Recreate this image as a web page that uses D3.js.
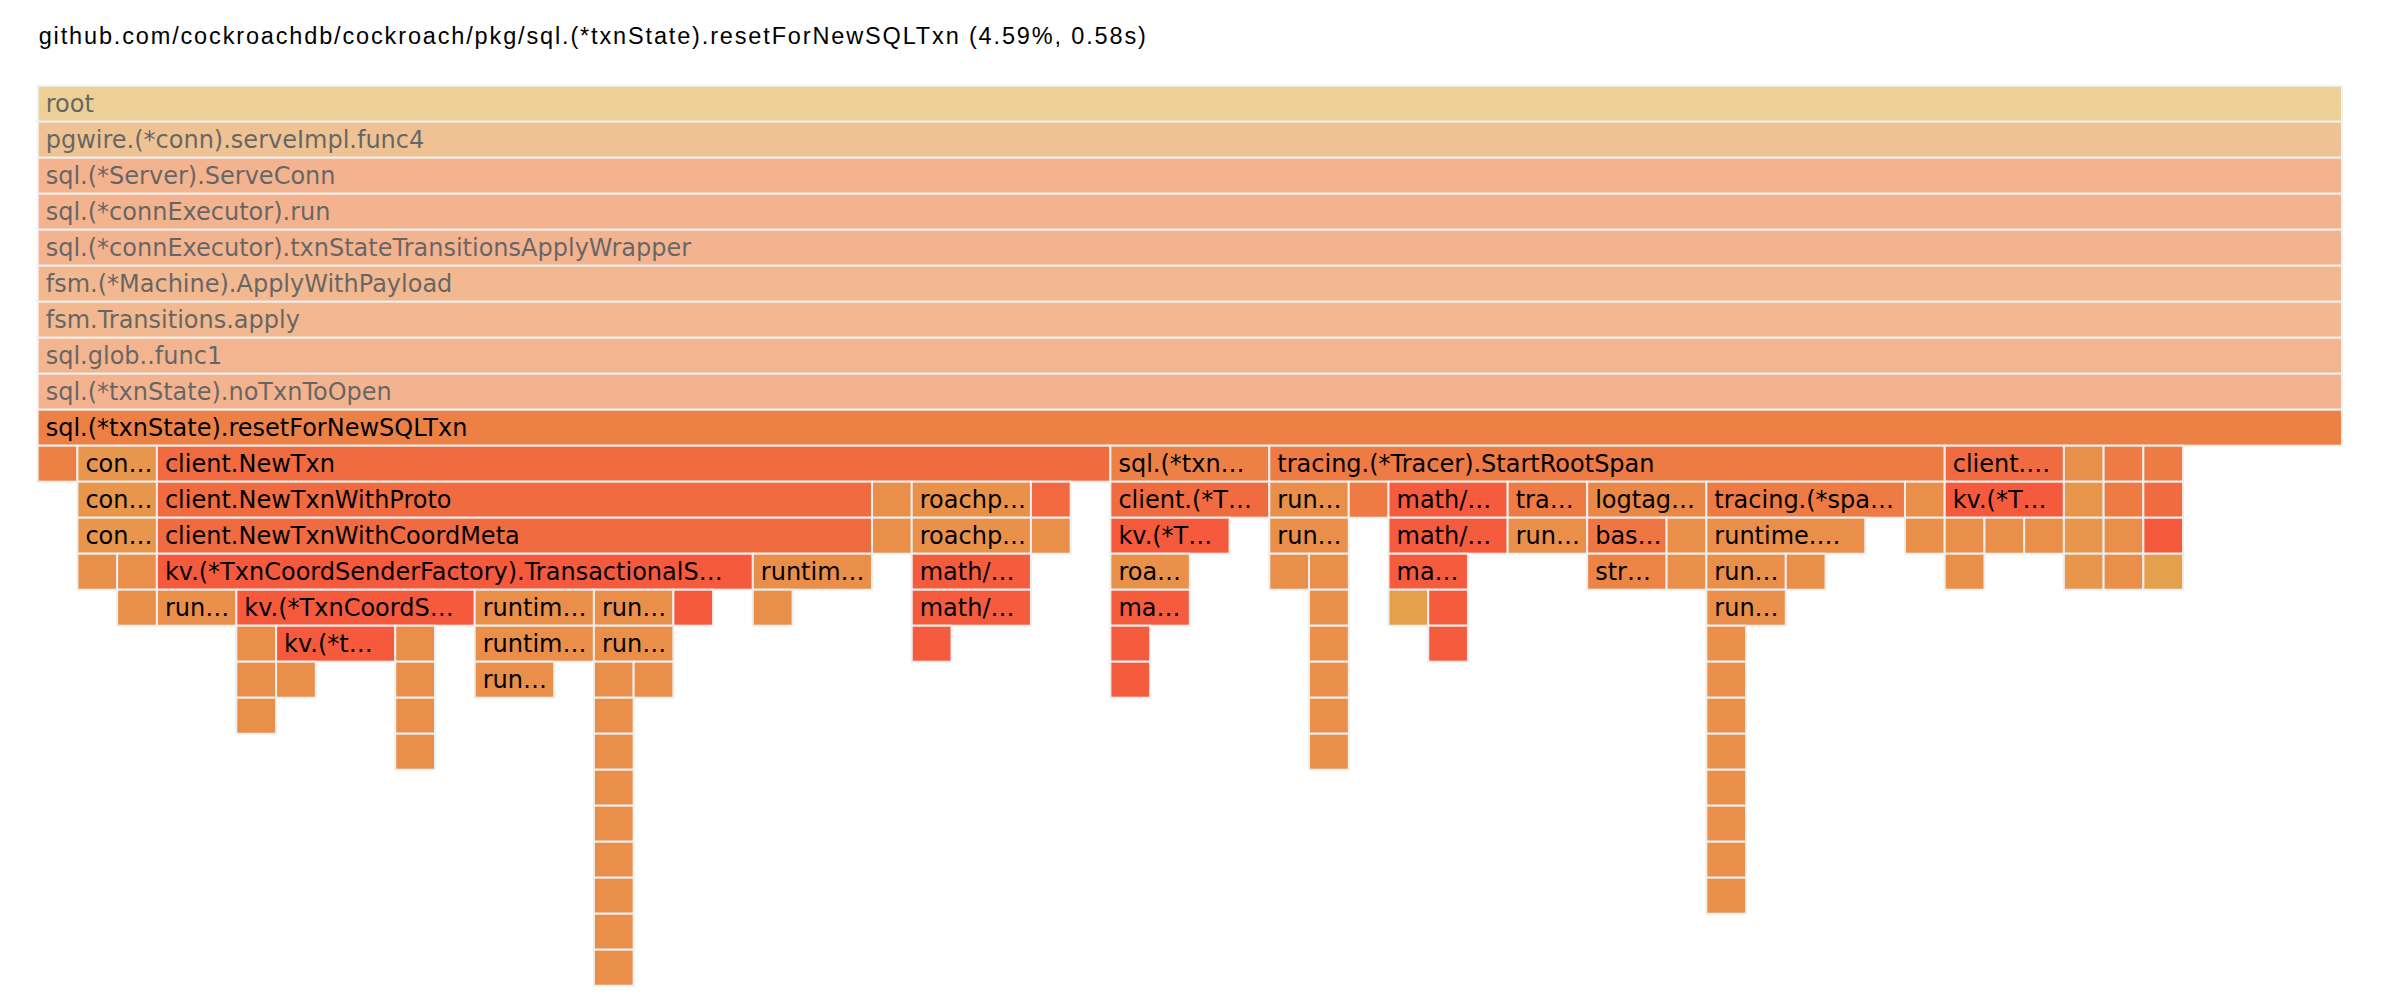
<!DOCTYPE html>
<html>
<head>
<meta charset="utf-8">
<script src="https://cdn.jsdelivr.net/npm/d3@7"></script>
<style>
  html, body { margin: 0; padding: 0; background: #fff; }
  svg { display: block; }
</style>
</head>
<body>
<div id="chart"></div>
<script>
// profile header
const focusPackage = "github.com/cockroachdb/cockroach/pkg/";
const focusPercent = 4.59;
const sampleSeconds = 0.01;

// frames above the focused function (root first), shown faded
const ancestorFrames = [
  "root",
  "pgwire.(*conn).serveImpl.func4",
  "sql.(*Server).ServeConn",
  "sql.(*connExecutor).run",
  "sql.(*connExecutor).txnStateTransitionsApplyWrapper",
  "fsm.(*Machine).ApplyWithPayload",
  "fsm.Transitions.apply",
  "sql.glob..func1",
  "sql.(*txnState).noTxnToOpen"
];
const focusFrame = "sql.(*txnState).resetForNewSQLTxn";
const focusSelf = 4;

// callees: [id, parent id, function, self samples]
const topCallees = [
  ["a", "F", "sql.(*txnState).setReadOnlyMode", 1],
  ["b", "F", "contextutil.WithCancel", 0],
  ["c", "F", "client.NewTxn", 1],
  ["d", "F", "sql.(*txnState).setPriority", 0],
  ["e", "F", "tracing.(*Tracer).StartRootSpan", 0],
  ["f", "F", "client.(*Txn).SetDebugName", 0],
  ["g", "F", "runtime.deferreturn", 0],
  ["h", "F", "tracing.ContextWithSpan", 0],
  ["i", "F", "tracing.(*span).SetTag", 0]
];

const contextFrames = [
  ["b1", "b", "context.WithCancel", 0],
  ["b2", "b1", "context.propagateCancel", 0],
  ["b3", "b2", "runtime.newobject", 1],
  ["b4", "b2", "runtime.makechan", 0],
  ["b5", "b4", "runtime.mallocgc", 1]
];

const newTxnFrames = [
  ["c1", "c", "client.NewTxnWithProto", 0],
  ["c11", "c1", "client.NewTxnWithCoordMeta", 0],
  ["c111", "c11", "kv.(*TxnCoordSenderFactory).TransactionalSender", 1],
  ["k1", "c111", "runtime.newobject", 2],
  ["k2", "c111", "kv.(*TxnCoordSender).initCommonInterceptors", 1],
  ["k21", "k2", "runtime.newobject", 0],
  ["k211", "k21", "runtime.mallocgc", 0],
  ["k2111", "k211", "runtime.nextFreeFast", 1],
  ["k22", "k2", "kv.(*txnHeartbeater).init", 2],
  ["k221", "k22", "runtime.newobject", 1],
  ["k23", "k2", "runtime.makemap_small", 0],
  ["k231", "k23", "runtime.newobject", 0],
  ["k232", "k231", "runtime.mallocgc", 0],
  ["k233", "k232", "runtime.heapBitsSetType", 1],
  ["k3", "c111", "runtime.makeslice", 0],
  ["k31", "k3", "runtime.mallocgc", 1],
  ["k311", "k31", "runtime.(*mcache).nextFree", 2],
  ["k4", "c111", "runtime.newobject", 0],
  ["k41", "k4", "runtime.mallocgc", 0],
  ["k411", "k41", "runtime.(*mcache).nextFree", 0],
  ["k412", "k411", "runtime.(*mcache).refill", 0],
  ["k413", "k412", "runtime.(*mcentral).cacheSpan", 0],
  ["k414", "k413", "runtime.(*mcentral).grow", 0],
  ["k415", "k414", "runtime.(*mheap).alloc", 0],
  ["k416", "k415", "runtime.systemstack", 0],
  ["k417", "k416", "runtime.(*mheap).alloc.func1", 0],
  ["k418", "k417", "runtime.(*mheap).alloc_m", 0],
  ["k419", "k418", "runtime.(*mheap).allocSpanLocked", 1],
  ["k42", "k41", "runtime.memclrNoHeapPointers", 1],
  ["k5", "c111", "kv.(*TxnCoordSender).updateStateLocked", 1],
  ["c112", "c11", "runtime.newobject", 2],
  ["c1121", "c112", "runtime.mallocgc", 1],
  ["c2", "c", "runtime.newobject", 0],
  ["c21", "c2", "runtime.mallocgc", 1],
  ["c3", "c", "roachpb.MakeTransaction", 0],
  ["c31", "c3", "roachpb.MakePriority", 0],
  ["c311", "c31", "math/rand.Int31n", 0],
  ["c3111", "c311", "math/rand.(*Rand).Int31n", 2],
  ["c31111", "c3111", "math/rand.(*Rand).Int31", 1],
  ["c4", "c", "hlc.(*Clock).Now", 0],
  ["c41", "c4", "runtime.walltime", 1]
];

const priorityFrames = [
  ["d1", "d", "client.(*Txn).SetUserPriority", 1],
  ["d11", "d1", "kv.(*TxnCoordSender).SetUserPriority", 1],
  ["d111", "d11", "roachpb.MakePriority", 0],
  ["d1111", "d111", "math/rand.ExpFloat64", 1],
  ["d11111", "d1111", "math/rand.(*Rand).ExpFloat64", 0],
  ["d111111", "d11111", "math/rand.(*Rand).Uint32", 1]
];

const spanFrames = [
  ["e1", "e", "runtime.newobject", 0],
  ["e11", "e1", "runtime.mallocgc", 0],
  ["e111", "e11", "runtime.nextFreeFast", 1],
  ["e112", "e11", "runtime.(*mcache).nextFree", 0],
  ["e1121", "e112", "runtime.(*mcache).refill", 0],
  ["e1122", "e1121", "runtime.(*mcentral).cacheSpan", 0],
  ["e1123", "e1122", "runtime.(*mcentral).grow", 0],
  ["e1124", "e1123", "runtime.(*mheap).alloc", 0],
  ["e1125", "e1124", "runtime.systemstack", 1],
  ["e2", "e", "tracing.(*Tracer).getShadowTracer", 1],
  ["e3", "e", "math/rand.Int63", 0],
  ["e31", "e3", "math/rand.(*Rand).Int63", 1],
  ["e311", "e31", "math/rand.(*lockedSource).Int63", 0],
  ["e3111", "e311", "sync.(*Mutex).Lock", 1],
  ["e3112", "e311", "math/rand.(*rngSource).Int63", 0],
  ["e31121", "e3112", "math/rand.(*rngSource).Uint64", 1],
  ["e4", "e", "tracing.(*span).SetTags", 0],
  ["e41", "e4", "runtime.makemap", 2],
  ["e5", "e", "logtags.(*Buffer).Get", 0],
  ["e51", "e5", "base64.(*Encoding).EncodeToString", 0],
  ["e511", "e51", "strconv.appendQuotedWith", 2],
  ["e52", "e5", "runtime.convTstring", 0],
  ["e521", "e52", "runtime.mallocgc", 1],
  ["e6", "e", "tracing.(*span).SetBaggageItem", 1],
  ["e61", "e6", "runtime.mapassign_faststr", 1],
  ["e611", "e61", "runtime.hashGrow", 0],
  ["e6111", "e611", "runtime.makeBucketArray", 1],
  ["e61111", "e6111", "runtime.newarray", 0],
  ["e61112", "e61111", "runtime.mallocgc", 0],
  ["e61113", "e61112", "runtime.(*mcache).nextFree", 0],
  ["e61114", "e61113", "runtime.(*mcache).refill", 0],
  ["e61115", "e61114", "runtime.(*mcentral).cacheSpan", 0],
  ["e61116", "e61115", "runtime.(*mcentral).grow", 0],
  ["e61117", "e61116", "runtime.(*mheap).alloc", 0],
  ["e61118", "e61117", "runtime.systemstack", 1],
  ["e612", "e61", "runtime.memhash", 1],
  ["e7", "e", "runtime.convT2Estring", 0],
  ["e71", "e7", "runtime.mallocgc", 1]
];

const tailFrames = [
  ["f1", "f", "kv.(*TxnCoordSender).SetDebugName", 0],
  ["f11", "f1", "runtime.convTstring", 0],
  ["f111", "f11", "runtime.mallocgc", 1],
  ["f12", "f1", "runtime.lock", 1],
  ["f13", "f1", "runtime.unlock", 1],
  ["g1", "g", "contextutil.WithCancel.func1", 0],
  ["g2", "g1", "context.(*cancelCtx).cancel", 0],
  ["g3", "g2", "context.removeChild", 1],
  ["h1", "h", "tracing.(*span).Context", 0],
  ["h2", "h1", "runtime.convT2E", 0],
  ["h3", "h2", "runtime.mallocgc", 1],
  ["i1", "i", "client.(*Txn).ID", 0],
  ["i2", "i1", "kv.(*TxnCoordSender).TxnStatus", 0],
  ["i3", "i2", "sync.(*Mutex).Lock", 1]
];

// ---- layout ----
const pageWidth = 2386, pageHeight = 1006;
const margin = { top: 85.7, left: 37.7, right: 44 };
const cellHeight = 36;
const labelSize = 24;

// Verdana advance widths (per 1000 em), used for label truncation like the original page
const verdanaLower = [601,623,521,623,596,352,623,633,274,344,592,274,973,633,607,623,623,427,521,394,633,592,818,592,592,525];
const verdanaUpper = [684,686,698,771,632,575,775,751,421,455,693,557,843,748,787,603,787,695,684,616,732,684,989,685,615,685];
const verdanaPunct = { ".": 364, "(": 454, ")": 454, "*": 636, "/": 454, "_": 636, " ": 352 };
const ellipsisWidth = 818 * labelSize / 1000;

function charWidth(ch) {
  const c = ch.charCodeAt(0);
  if (c >= 97 && c <= 122) return verdanaLower[c - 97];
  if (c >= 65 && c <= 90) return verdanaUpper[c - 65];
  if (c >= 48 && c <= 57) return 636;
  return verdanaPunct[ch] || 600;
}
function textWidth(s) {
  let w = 0;
  for (const ch of s) w += charWidth(ch);
  return w * labelSize / 1000;
}
function fitLabel(name, avail) {
  if (textWidth(name) <= avail) return name;
  for (let n = name.length - 1; n > 0; n--) {
    const t = name.slice(0, n);
    if (textWidth(t) + ellipsisWidth <= avail) return t + "\u2026";
  }
  return "\u2026";
}

// d3-flame-graph style name hash -> colour
function generateHash(name) {
  let hash = 0, weight = 1, maxHash = 0;
  const mod = 10, maxChar = 6;
  for (let i = 0; i < name.length; i++) {
    if (i > maxChar) break;
    hash += weight * (name.charCodeAt(i) % mod);
    maxHash += weight * (mod - 1);
    weight *= 0.70;
  }
  return maxHash > 0 ? hash / maxHash : 0;
}
function colorHash(name) {
  const v = generateHash(name.split("(")[0]);
  const r = 200 + Math.round(55 * v);
  const g = Math.round(230 * (1 - v));
  const b = Math.round(55 * (1 - v));
  return "rgb(" + r + "," + g + "," + b + ")";
}

// ---- hierarchy ----
const rows = ancestorFrames.map((name, i) => ({
  id: "a" + i, parent: i === 0 ? null : "a" + (i - 1), name: name, self: 0
}));
rows.push({ id: "F", parent: "a" + (ancestorFrames.length - 1), name: focusFrame, self: focusSelf });
[topCallees, contextFrames, newTxnFrames, priorityFrames, spanFrames, tailFrames].forEach(list => {
  list.forEach(([id, parent, name, self]) => rows.push({ id, parent, name, self }));
});

const root = d3.stratify().id(d => d.id).parentId(d => d.parent)(rows);
root.sum(d => d.self);
const depthCount = root.height + 1;
d3.partition().size([1, depthCount])(root);

const focusDepth = ancestorFrames.length;
const total = root.value;

const x = d3.scaleLinear().domain([0, 1]).range([margin.left, pageWidth - margin.right]);
const y = d3.scaleLinear().domain([0, depthCount]).range([margin.top, margin.top + depthCount * cellHeight]);

const svg = d3.select("#chart").append("svg")
    .attr("width", pageWidth)
    .attr("height", pageHeight);

svg.append("text")
    .attr("x", margin.left + 1)
    .attr("y", 44.3)
    .style("font-family", "'Liberation Sans', Arial, Helvetica, sans-serif")
    .style("font-size", "23.5px")
    .style("letter-spacing", "1.85px")
    .attr("fill", "#000")
    .text(focusPackage + focusFrame + " (" + focusPercent.toFixed(2) + "%, " + (total * sampleSeconds).toFixed(2) + "s)");

const cell = svg.append("g").attr("class", "d3-flame-graph")
  .selectAll("g")
  .data(root.descendants())
  .join("g")
    .attr("transform", d => "translate(" + x(d.x0) + "," + y(d.y0) + ")")
    .attr("opacity", d => d.depth < focusDepth ? 0.6 : 1);

cell.append("rect")
    .attr("width", d => x(d.x1) - x(d.x0))
    .attr("height", cellHeight)
    .attr("fill", d => colorHash(d.data.name))
    .attr("fill-opacity", 0.8)
    .attr("stroke", "#eeeeee")
    .attr("stroke-width", 2);

cell.filter(d => x(d.x1) - x(d.x0) >= 70)
  .append("text")
    .attr("x", 8)
    .attr("y", 26.5)
    .style("font-family", "'DejaVu Sans', Verdana, sans-serif")
    .style("font-size", labelSize + "px")
    .attr("fill", "#000")
    .text(d => fitLabel(d.data.name, x(d.x1) - x(d.x0) - 16.5));
</script>
</body>
</html>
